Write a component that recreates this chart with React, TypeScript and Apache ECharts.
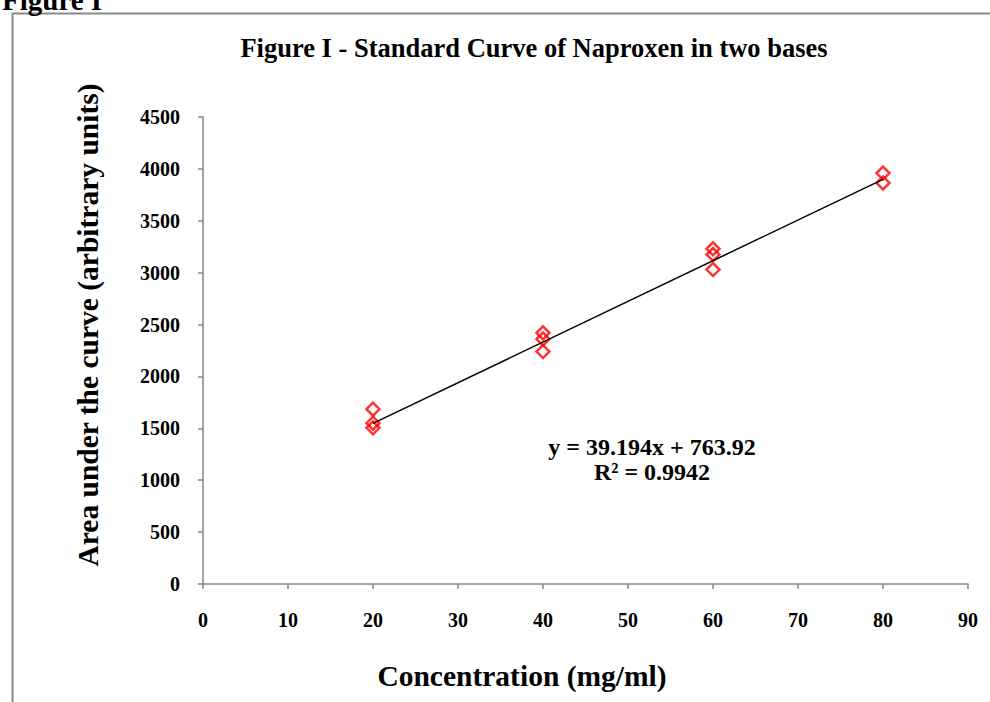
import React, { useEffect, useRef } from "react";
import * as echarts from "echarts";

const concentrations = [20, 20, 20, 40, 40, 40, 60, 60, 60, 80, 80];
const areas = [1685, 1550, 1505, 2420, 2360, 2240, 3230, 3175, 3030, 3960, 3865];
const slope = 39.194;
const intercept = 763.92;
const trendRange = [20, 80];
const xTicks = { min: 0, max: 90, interval: 10 };
const yTicks = { min: 0, max: 4500, interval: 500 };

const FONT = '"Liberation Serif", "Times New Roman", serif';

export default function App() {
  const ref = useRef<HTMLDivElement>(null);
  useEffect(() => {
    if (!ref.current) return;
    const chart = echarts.init(ref.current, undefined, { renderer: "svg" });
    const points = concentrations.map((c, i) => [c, areas[i]]);
    const trend = trendRange.map((x) => [x, slope * x + intercept]);
    const axisColor = "#868686";
    chart.setOption({
      animation: false,
      backgroundColor: "#ffffff",
      grid: { left: 203, right: 22, top: 117, bottom: 118 },
      xAxis: {
        type: "value",
        min: xTicks.min,
        max: xTicks.max,
        interval: xTicks.interval,
        axisLine: { show: true, lineStyle: { color: axisColor, width: 1.5 } },
        axisTick: { show: true, length: 5, lineStyle: { color: axisColor, width: 1.5 } },
        splitLine: { show: false },
        axisLabel: {
          color: "#000",
          fontFamily: FONT,
          fontWeight: "bold",
          fontSize: 20,
          margin: 26,
          formatter: (v: number) => String(v),
        },
      },
      yAxis: {
        type: "value",
        min: yTicks.min,
        max: yTicks.max,
        interval: yTicks.interval,
        axisLine: { show: true, lineStyle: { color: axisColor, width: 1.5 } },
        axisTick: { show: true, length: 5, lineStyle: { color: axisColor, width: 1.5 } },
        splitLine: { show: false },
        axisLabel: {
          color: "#000",
          fontFamily: FONT,
          fontWeight: "bold",
          fontSize: 20,
          margin: 23,
          formatter: (v: number) => String(v),
        },
      },
      series: [
        {
          type: "scatter",
          data: points,
          symbol: "diamond",
          symbolSize: 13,
          itemStyle: { color: "rgba(0,0,0,0)", borderColor: "#ff0000", borderWidth: 2.5 },
          z: 2,
        },
        {
          type: "line",
          data: trend,
          symbol: "none",
          lineStyle: { color: "#000", width: 1.5 },
          z: 3,
        },
      ],
      graphic: [
        {
          type: "rect",
          shape: { x: 12.5, y: 13.5, width: 1100, height: 900 },
          style: { fill: "none", stroke: "#8a8a8a", lineWidth: 2 },
          silent: true,
          z: 0,
        },
        {
          type: "text",
          x: 2,
          y: 14,
          style: {
            text: "Figure I",
            font: `bold 29px ${FONT}`,
            fill: "#000",
            textAlign: "left",
            textVerticalAlign: "bottom",
          },
        },
        {
          type: "text",
          x: 534,
          y: 48,
          style: {
            text: "Figure I - Standard Curve of Naproxen in two bases",
            font: `bold 26.5px ${FONT}`,
            fill: "#000",
            textAlign: "center",
            textVerticalAlign: "middle",
          },
        },
        {
          type: "text",
          x: 522,
          y: 676,
          style: {
            text: "Concentration (mg/ml)",
            font: `bold 29.5px ${FONT}`,
            fill: "#000",
            textAlign: "center",
            textVerticalAlign: "middle",
          },
        },
        {
          type: "text",
          x: 88,
          y: 325,
          rotation: Math.PI / 2,
          style: {
            text: "Area under the curve (arbitrary units)",
            font: `bold 29.5px ${FONT}`,
            fill: "#000",
            textAlign: "center",
            textVerticalAlign: "middle",
          },
        },
        {
          type: "text",
          x: 652,
          y: 447,
          style: {
            text: "y = 39.194x + 763.92",
            font: `bold 24px ${FONT}`,
            fill: "#000",
            textAlign: "center",
            textVerticalAlign: "middle",
          },
        },
        {
          type: "text",
          x: 652,
          y: 472,
          style: {
            text: "R² = 0.9942",
            font: `bold 24px ${FONT}`,
            fill: "#000",
            textAlign: "center",
            textVerticalAlign: "middle",
          },
        },
      ],
    });
    return () => chart.dispose();
  }, []);
  return (
    <div
      ref={ref}
      style={{ position: "fixed", left: 0, top: 0, width: 990, height: 702 }}
    />
  );
}
